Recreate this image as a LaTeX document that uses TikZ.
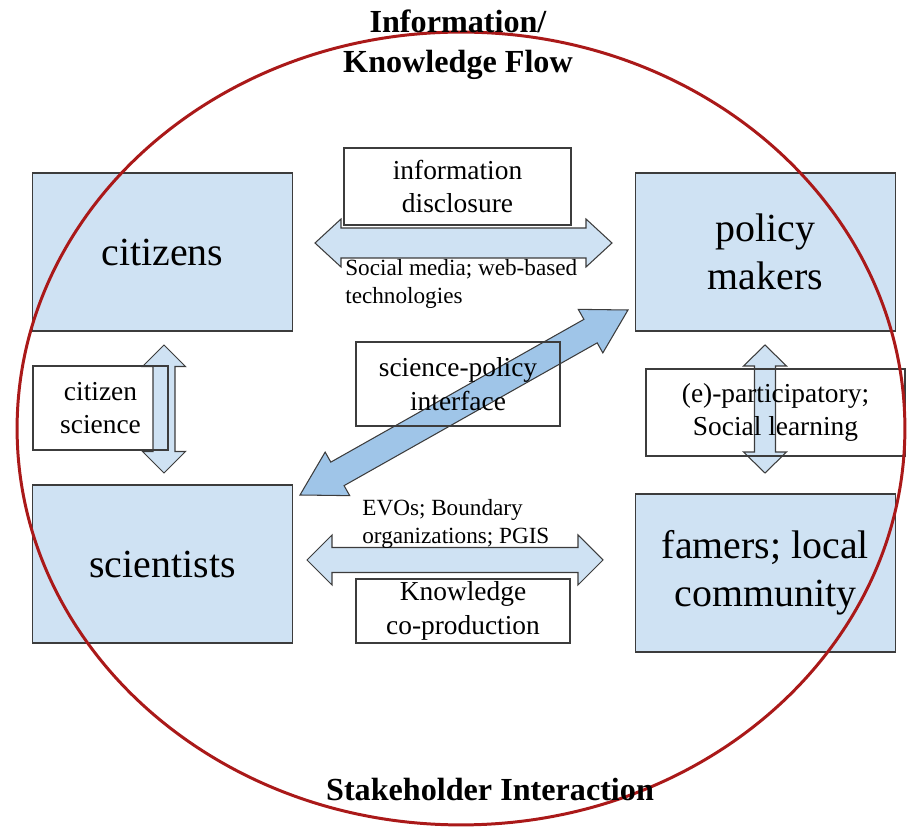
\documentclass[tikz,border=0pt]{standalone}
\usepackage{fontspec}
\setmainfont{Liberation Serif}
\usetikzlibrary{calc}
\definecolor{boxfill}{RGB}{207,226,243}
\definecolor{arrowdark}{RGB}{159,197,232}
\definecolor{boxline}{RGB}{60,60,60}
\definecolor{ringred}{RGB}{170,25,25}
\def\blockarrow[#1](#2)(#3)(#4:#5:#6){\draw[#1] (#2) -- ($(#2)!#6!(#3)!#5!90:(#3)$) -- ($(#2)!#6!(#3)!#4!90:(#3)$) -- ($(#3)!#6!(#2)!#4!-90:(#2)$) -- ($(#3)!#6!(#2)!#5!-90:(#2)$) -- (#3) -- ($(#3)!#6!(#2)!#5!90:(#2)$) -- ($(#3)!#6!(#2)!#4!90:(#2)$) -- ($(#2)!#6!(#3)!#4!-90:(#3)$) -- ($(#2)!#6!(#3)!#5!-90:(#3)$) -- cycle;}

\begin{document}
\begin{tikzpicture}[x=0.02cm, y=-0.02cm,
	mainbox/.style={draw=boxline, fill=boxfill, line width=0.9pt, align=center, inner sep=0pt,
		minimum width=5.2cm, minimum height=3.16cm, font=\fontsize{22.7}{27.5}\selectfont},
	lblbox/.style={draw=boxline, line width=0.8pt, align=center, inner sep=0pt,
		font=\fontsize{15.6}{19}\selectfont},
	smalltxt/.style={align=left, anchor=west, inner sep=0pt, font=\fontsize{13.2}{15.9}\selectfont},
	titletxt/.style={align=center, inner sep=0pt, font=\fontsize{18.3}{22.7}\selectfont\bfseries},
	arrowlight/.style={draw=boxline, line width=0.6pt, fill=boxfill},
	arrowdiag/.style={draw=boxline, line width=0.6pt, fill=arrowdark}]
			%%%%% START %%%%%
			\useasboundingbox (0,0) rectangle (907,827);
			
			\node[mainbox] (citizens) at (162.5,252) {citizens};
			\node[mainbox] (policy) at (765.5,252) {policy\\makers};
			\node[mainbox] (scientists) at (162.5,564) {scientists};
			\node[mainbox] (farmers) at (765.5,573) {famers; local\\community};
			
			\coordinate (topL) at (315,243);
			\coordinate (topR) at (612,243);
			\coordinate (leftT) at (164,345);
			\coordinate (leftB) at (164,473);
			\coordinate (diagL) at (300,495);
			\coordinate (diagR) at (628,310);
			\coordinate (rightT) at (765,345);
			\coordinate (rightB) at (765,473);
			\coordinate (botL) at (307,560);
			\coordinate (botR) at (603,560);
			
			\blockarrow[arrowlight](topL)(topR)(0.3cm:0.48cm:0.52cm)
			\blockarrow[arrowlight](leftT)(leftB)(0.22cm:0.43cm:0.43cm)
			\blockarrow[arrowdiag](diagL)(diagR)(0.27cm:0.5cm:0.86cm)
			\blockarrow[arrowlight](rightT)(rightB)(0.21cm:0.43cm:0.42cm)
			\blockarrow[arrowlight](botL)(botR)(0.25cm:0.5cm:0.5cm)
			
			\node[lblbox, minimum width=4.54cm, minimum height=1.54cm, fill=white] (disclosure) at (457.5,186.5) {information\\disclosure};
			\node[lblbox, minimum width=2.7cm, minimum height=1.68cm] (citsci) at (100.5,408) {citizen\\science};
			\node[lblbox, minimum width=4.08cm, minimum height=1.68cm] (interface) at (458,384) {science-policy\\interface};
			\node[lblbox, minimum width=5.18cm, minimum height=1.74cm] (learning) at (775.5,412.5) {(e)-participatory;\\Social learning};
			\node[lblbox, minimum width=4.28cm, minimum height=1.28cm, fill=white] (coprod) at (463,611) {Knowledge\\co-production};
			
			\node[smalltxt] (media) at (345,284) {Social media; web-based\\technologies};
			\node[smalltxt] (evos) at (362,524) {EVOs; Boundary\\organizations; PGIS};
			
			\draw[ringred, line width=1.7pt] (461,428.5) ellipse [x radius=8.88cm, y radius=7.93cm];
			
			\node[titletxt] (flow) at (458,45) {Information/\\Knowledge Flow};
			\node[titletxt] (interaction) at (490,790) {Stakeholder Interaction};
			
			%%%%% END %%%%%
\end{tikzpicture}
\end{document}
